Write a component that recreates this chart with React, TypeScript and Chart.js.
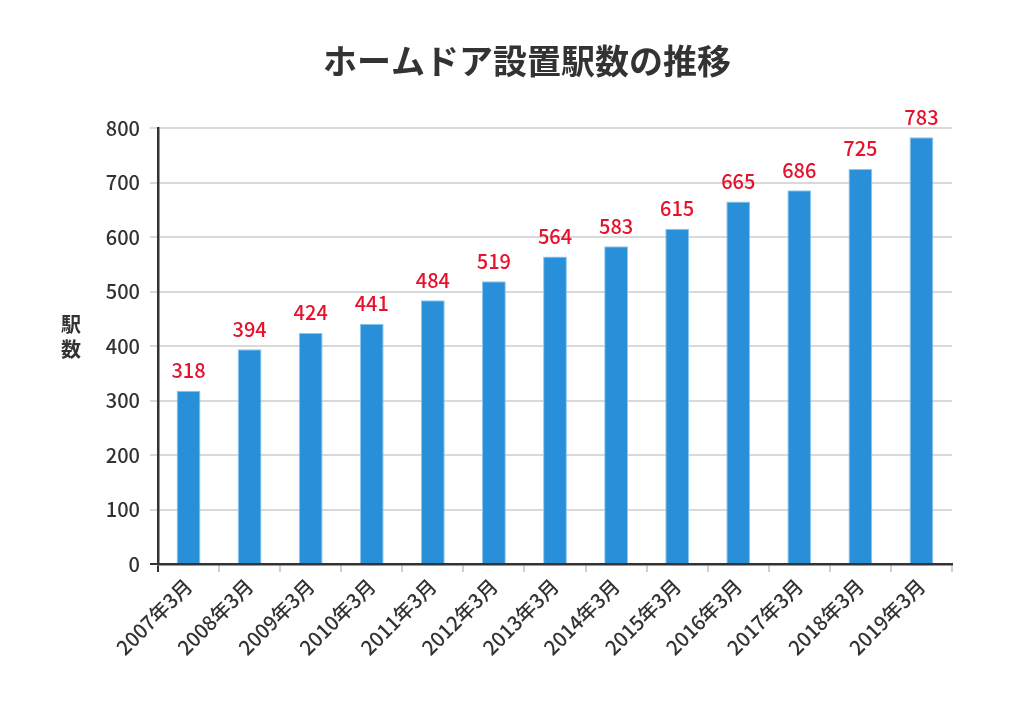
import React, { useEffect, useRef } from "react";
import { Chart, registerables } from "chart.js";

Chart.register(...registerables);

const categories = [
  "2007年3月", "2008年3月", "2009年3月", "2010年3月", "2011年3月", "2012年3月", "2013年3月",
  "2014年3月", "2015年3月", "2016年3月", "2017年3月", "2018年3月", "2019年3月",
];
const stationCounts = [318, 394, 424, 441, 484, 519, 564, 583, 615, 665, 686, 725, 783];
const yTicks = [0, 100, 200, 300, 400, 500, 600, 700, 800];
const titleText = "ホームドア設置駅数の推移";
const yAxisLabel = ["駅", "数"];

const FONT = "'Noto Sans CJK JP', 'Noto Sans', sans-serif";

const overlayPlugin = {
  id: "overlay",
  afterDatasetsDraw(chart: any) {
    const ctx = chart.ctx;
    ctx.save();
    // data labels
    const meta = chart.getDatasetMeta(0);
    ctx.fillStyle = "#e8112d";
    ctx.font = `500 20px ${FONT}`;
    ctx.textAlign = "center";
    ctx.textBaseline = "alphabetic";
    meta.data.forEach((bar: any, i: number) => {
      ctx.fillText(String(stationCounts[i]), bar.x, bar.y - 12.5);
    });
    // title
    ctx.fillStyle = "#333333";
    ctx.font = `bold 34px ${FONT}`;
    ctx.textBaseline = "middle";
    ctx.fillText(titleText, 527, 61);
    // y-axis label (upright stacked)
    ctx.font = `bold 20px ${FONT}`;
    yAxisLabel.forEach((ch, i) => {
      ctx.fillText(ch, 71, 324 + i * 25);
    });
    ctx.restore();
  },
};

export default function App() {
  const canvasRef = useRef<HTMLCanvasElement | null>(null);

  useEffect(() => {
    const canvas = canvasRef.current;
    if (!canvas) return;
    const chart = new Chart(canvas, {
      type: "bar",
      data: {
        labels: categories,
        datasets: [
          {
            data: stationCounts,
            backgroundColor: "#298fd8",
            borderColor: "#8cc6f0",
            borderWidth: 1,
            barPercentage: 0.39,
            categoryPercentage: 1,
          },
        ],
      },
      options: {
        responsive: false,
        animation: false,
        devicePixelRatio: 1,
        layout: { padding: { top: 128, right: 60, left: 0, bottom: 0 } },
        plugins: {
          legend: { display: false },
          title: { display: false },
          tooltip: { enabled: false },
        },
        scales: {
          x: {
            afterFit(scale: any) {
              scale.height = 139;
            },
            grid: {
              offset: true,
              drawOnChartArea: false,
              drawTicks: true,
              tickLength: 8,
              lineWidth: 2,
              color: (c: any) => (c.index === 0 ? "#333333" : "#d0d0d0"),
            },
            border: { color: "#333333", width: 2.5 },
            ticks: {
              autoSkip: false,
              maxRotation: 45,
              minRotation: 45,
              padding: 2,
              color: "#333333",
              font: { family: FONT, size: 20, weight: 500 },
            },
          },
          y: {
            min: 0,
            max: 800,
            afterFit(scale: any) {
              scale.width = 158;
            },
            afterBuildTicks(scale: any) {
              scale.ticks = yTicks.map((v) => ({ value: v }));
            },
            grid: {
              lineWidth: 2,
              tickLength: 8,
              color: (c: any) => (c.tick && c.tick.value === 0 ? "#333333" : "#d9d9d9"),
            },
            border: { color: "#333333", width: 2.5 },
            ticks: {
              padding: 10,
              color: "#333333",
              font: { family: FONT, size: 20, weight: 500 },
            },
          },
        },
      },
      plugins: [overlayPlugin],
    });
    return () => chart.destroy();
  }, []);

  return (
    <div style={{ position: "fixed", left: 0, top: 0, width: 1012, height: 703, background: "#ffffff" }}>
      <canvas ref={canvasRef} width={1012} height={703} style={{ width: 1012, height: 703 }} />
    </div>
  );
}
